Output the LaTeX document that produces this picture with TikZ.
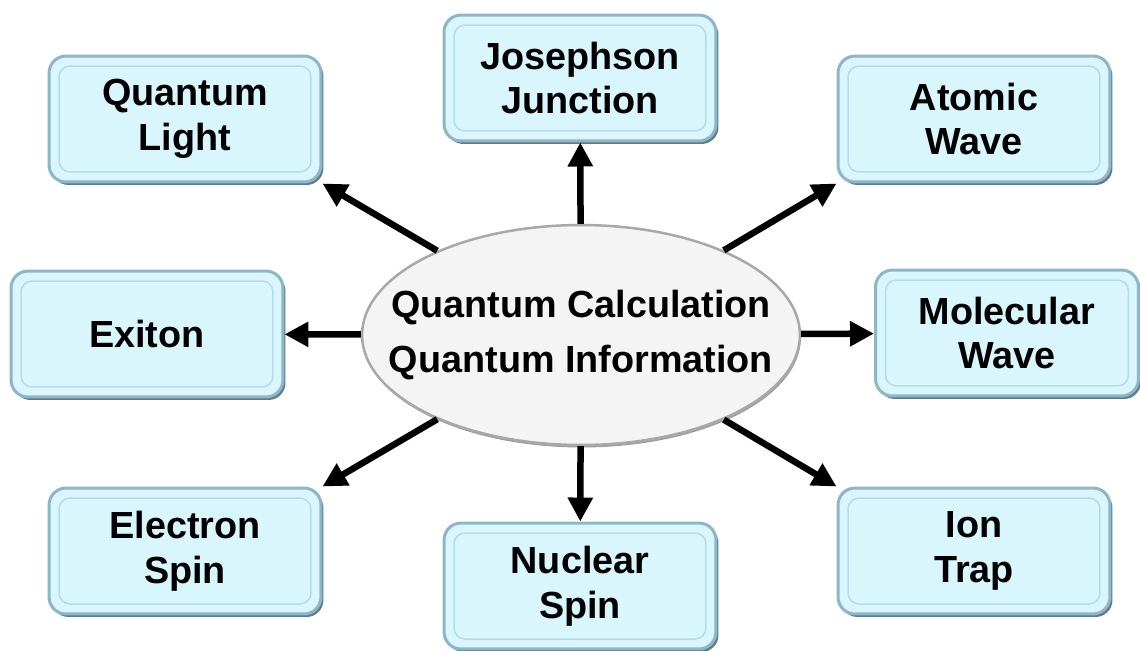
\documentclass[tikz,border=0pt]{standalone}
\usepackage{fontspec}
\setmainfont{Liberation Sans}
\usepackage{tikz}
\usetikzlibrary{arrows.meta,positioning,shapes.geometric,shadows}
\usepackage{xcolor}
\definecolor{boxfill}{HTML}{D8F6FC}
\definecolor{boxedge}{HTML}{8DB6C8}
\definecolor{boxline}{HTML}{B4DCE6}
\definecolor{boxshade}{HTML}{5E7C8A}
\definecolor{corefill}{HTML}{F4F4F4}
\definecolor{coreedge}{HTML}{A8A8A8}

\begin{document}
\begin{tikzpicture}[x=0.02cm,y=-0.02cm,>={Triangle[length=0.48cm,width=0.48cm]},
  qbox/.style={rectangle,rounded corners=0.34cm,minimum width=5.44cm,minimum height=2.52cm,
    fill=boxfill,draw=boxedge,line width=0.06cm,align=center,
    font=\fontsize{21.5}{25.5}\selectfont\bfseries,
    general shadow={shadow xshift=0.05cm,shadow yshift=-0.06cm,fill=boxshade},
    path picture={\draw[boxline,line width=0.03cm,rounded corners=0.22cm]
      ([shift={(0.2cm,0.2cm)}]path picture bounding box.south west) rectangle
      ([shift={(-0.2cm,-0.2cm)}]path picture bounding box.north east);}},
  core/.style={ellipse,minimum width=8.76cm,minimum height=4.4cm,inner xsep=-0.8cm,inner ysep=0pt,
    draw=coreedge,line width=0.05cm,fill=corefill,
    general shadow={shadow xshift=0.02cm,shadow yshift=-0.05cm,fill=gray!75},
    align=center,font=\fontsize{21.5}{31}\selectfont\bfseries},
  flow/.style={->,line width=0.13cm,black}]
  \useasboundingbox (0,0) rectangle (1140,650);

  % outer boxes
  \node[qbox] (ql) at (185,119) {Quantum\\Light};
  \node[qbox] (jj) at (580,78) {Josephson\\Junction};
  \node[qbox] (aw) at (974,119) {Atomic\\Wave};
  \node[qbox] (ex) at (147,334) {Exiton};
  \node[qbox,minimum width=5.26cm] (mw) at (1007,333) {Molecular\\Wave};
  \node[qbox] (es) at (185,551) {Electron\\Spin};
  \node[qbox] (ns) at (580,586) {Nuclear\\Spin};
  \node[qbox] (it) at (974,551) {Ion\\Trap};

  % centre
  \node[core] (qc) at (581,335) {Quantum Calculation\\Quantum Information};

  % arrows
  \draw[flow] (qc) -- (ql.south east);
  \draw[flow] (qc) -- (jj);
  \draw[flow] (qc) -- (aw.south west);
  \draw[flow] (qc) -- (ex);
  \draw[flow] (qc) -- (mw);
  \draw[flow] (qc) -- (es.north east);
  \draw[flow] (qc) -- (ns);
  \draw[flow] (qc) -- (it.north west);
\end{tikzpicture}
\end{document}
